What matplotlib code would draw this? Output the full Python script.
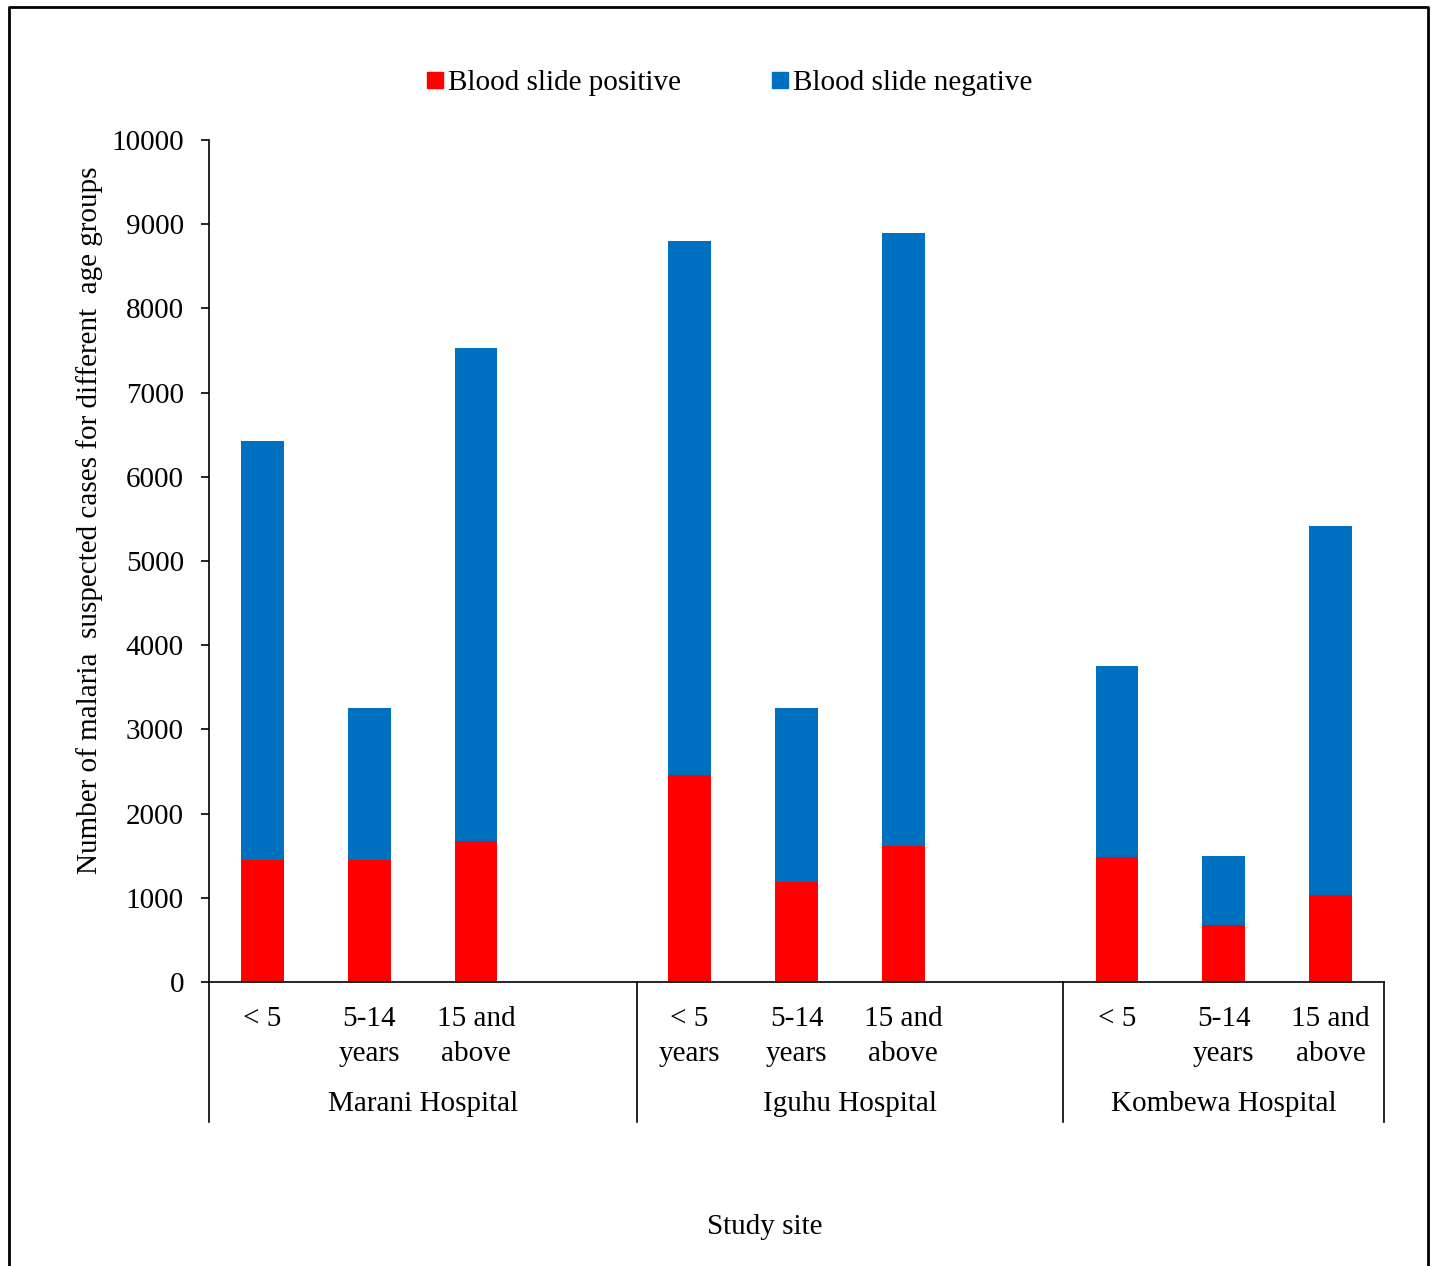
import matplotlib

matplotlib.use("Agg")
import matplotlib.pyplot as plt
from matplotlib.lines import Line2D

plt.rcParams['font.family'] = ['Liberation Serif', 'DejaVu Serif']

# data
hospitals = ['Marani Hospital', 'Iguhu Hospital', 'Kombewa Hospital']
age_labels = [['< 5', '5-14\nyears', '15 and\nabove'],
              ['< 5\nyears', '5-14\nyears', '15 and\nabove'],
              ['< 5', '5-14\nyears', '15 and\nabove']]
positive = [[1450, 1450, 1675], [2458, 1188, 1615], [1485, 677, 1033]]
negative = [[4975, 1805, 5855], [6342, 2066, 7280], [2268, 819, 4383]]

RED = '#FF0000'
BLUE = '#0070C0'
W, H = 1432, 1266
FS = 21

fig = plt.figure(figsize=(W / 100, H / 100), dpi=100)
ax = fig.add_axes([209 / W, 1 - 982 / H, (1384 - 209) / W, (982 - 140) / H])

xs, labels = [], []
for g in range(3):
    for i in range(3):
        x = g * 4 + i
        ax.bar(x, positive[g][i], 0.4, color=RED, zorder=2)
        ax.bar(x, negative[g][i], 0.4, bottom=positive[g][i], color=BLUE, zorder=2)
        xs.append(x)
        labels.append(age_labels[g][i])

ax.set_xlim(-0.5, 10.5)
ax.set_ylim(0, 10000)
ax.set_yticks(range(0, 10001, 1000))
ax.tick_params(axis='y', direction='out', length=6, width=1.2, labelsize=FS, pad=12)
ax.set_xticks(xs)
ax.set_xticklabels(labels, fontsize=FS, linespacing=1.45, va='top')
ax.tick_params(axis='x', length=0, pad=17)
for s in ['top', 'right']:
    ax.spines[s].set_visible(False)
ax.spines['left'].set_linewidth(1.2)
ax.spines['bottom'].set_linewidth(1.2)


def fx(px):
    return px / W


def fy(py):
    return 1 - py / H


# group separators below the axis
seps = [209, 637, 1063, 1384]
for px in seps:
    fig.add_artist(Line2D([fx(px), fx(px)], [fy(982), fy(1122)], color='black', lw=1.2))

for g, name in enumerate(hospitals):
    cx = fx((seps[g] + seps[g + 1]) / 2)
    fig.text(cx, fy(1104), name, ha='center', va='center', fontsize=FS)

fig.text(fx(765), fy(1227), 'Study site', ha='center', va='center', fontsize=FS)
fig.text(fx(90), fy(520), 'Number of malaria  suspected cases for different  age groups',
         rotation=90, ha='center', va='center', fontsize=FS)

handles = [Line2D([], [], marker='s', color=RED, linestyle='none', markersize=11),
           Line2D([], [], marker='s', color=BLUE, linestyle='none', markersize=11)]
fig.legend(handles, ['Blood slide positive', 'Blood slide negative'], loc='center',
           bbox_to_anchor=(fx(728), fy(83)), ncol=2, frameon=False, fontsize=FS,
           handletextpad=0.05, columnspacing=3.0, handlelength=0.8)

# outer frame (left, top, right)
fig.add_artist(Line2D([fx(9), fx(9), fx(1428), fx(1428)], [0, fy(7), fy(7), 0],
                      color='black', lw=2))

fig.savefig('out.png', dpi=100)
